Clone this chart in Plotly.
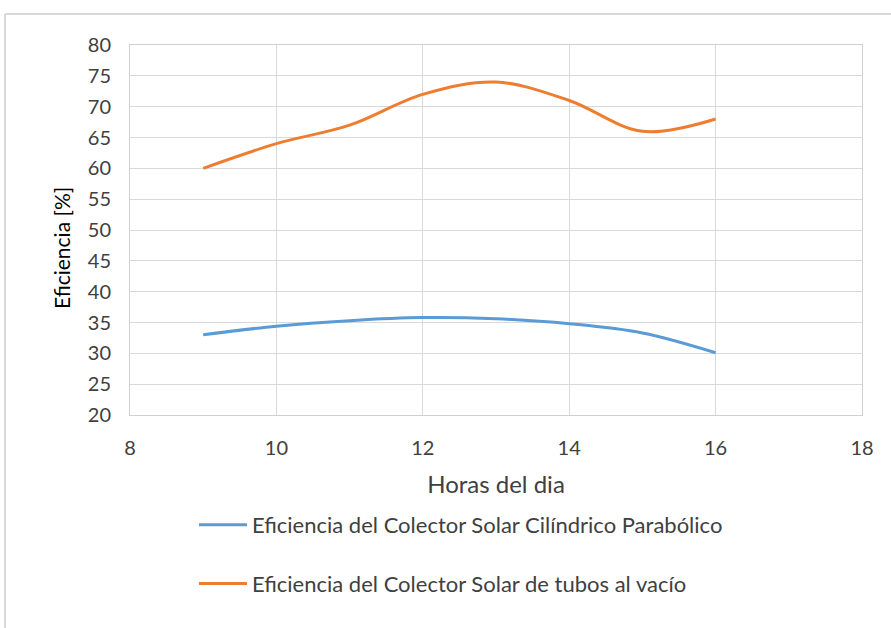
import plotly.graph_objects as go

horas = [9, 10, 11, 12, 13, 14, 15, 16]
cilindrico = [33.0, 34.4, 35.3, 35.8, 35.6, 34.8, 33.3, 30.1]
tubos = [60.0, 64.0, 67.0, 72.0, 74.0, 71.0, 66.0, 68.0]

name1 = "Eficiencia del Colector Solar Cilíndrico Parabólico"
name2 = "Eficiencia del Colector Solar de tubos al vacío"

FONT = "Lato, Liberation Sans, sans-serif"

fig = go.Figure()
fig.add_trace(go.Scatter(x=horas, y=cilindrico, mode="lines", name=name1,
                         line=dict(color="#5B9BD5", width=3, shape="spline", smoothing=1.0),
                         legendgroup="a"))
fig.add_trace(go.Scatter(x=horas, y=tubos, mode="lines", name=name2,
                         line=dict(color="#ED7D31", width=3, shape="spline", smoothing=1.0),
                         legendgroup="b"))

L, R, T, B = 130, 29, 45, 213
W, H = 891, 628
pw, ph = W - L - R, H - T - B

def px_x(p):
    return (p - L) / pw

def px_y(p):
    return (H - B - p) / ph

fig.update_layout(
    width=W, height=H,
    margin=dict(l=L, r=R, t=T, b=B),
    paper_bgcolor="white",
    plot_bgcolor="white",
    font=dict(family=FONT, size=20, color="#404040"),
    xaxis=dict(range=[8, 18], tickvals=[8, 10, 12, 14, 16, 18], showgrid=True,
               gridcolor="#d9d9d9", gridwidth=1, zeroline=False,
               showline=True, linecolor="#d0d0d0", mirror=True,
               ticks="", ticklabelstandoff=15, tickfont=dict(size=20, color="#404040"),
               title=dict(text="Horas del dia", font=dict(size=24, color="#404040"), standoff=18)),
    yaxis=dict(range=[20, 80], tickvals=list(range(20, 81, 5)), showgrid=True,
               gridcolor="#d9d9d9", gridwidth=1, zeroline=False,
               showline=True, linecolor="#d0d0d0", mirror=True,
               ticks="", ticklabelstandoff=14, tickfont=dict(size=20, color="#404040")),
    annotations=[
        dict(text="Eficiencia [%]", xref="paper", yref="paper", x=px_x(62), y=px_y(248),
             xanchor="center", yanchor="middle", textangle=-90, showarrow=False,
             font=dict(size=21, color="#000000")),
    ],
    showlegend=True,
    legend=dict(orientation="v", x=px_x(194), y=px_y(504), xanchor="left", yanchor="top",
                font=dict(size=22, color="#404040"), tracegroupgap=27, itemwidth=48,
                bgcolor="rgba(0,0,0,0)"),
    shapes=[
        dict(type="line", xref="paper", yref="paper", x0=px_x(5), x1=px_x(895),
             y0=px_y(14), y1=px_y(14), line=dict(color="#d9d9d9", width=2)),
        dict(type="line", xref="paper", yref="paper", x0=px_x(5), x1=px_x(5),
             y0=px_y(14), y1=px_y(632), line=dict(color="#d9d9d9", width=2)),
    ],
)

fig.write_html("out.html", config={"displayModeBar": False},
               post_script="document.body.style.margin='0';")
